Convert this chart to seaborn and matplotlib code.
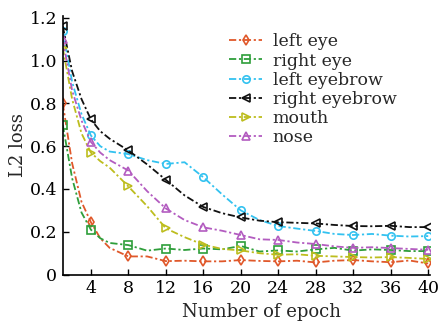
import matplotlib
matplotlib.use("Agg")
import matplotlib.pyplot as plt
import seaborn as sns
import pandas as pd

epochs = [1, 2, 3, 4, 5, 6, 8, 10, 12, 14, 16, 18, 20, 22, 24, 26, 28, 30, 32, 34, 36, 38, 40]

left_eye = [0.80, 0.52, 0.34, 0.245, 0.17, 0.125, 0.085, 0.085, 0.063, 0.065, 0.062, 0.062, 0.068,
            0.064, 0.062, 0.065, 0.057, 0.065, 0.068, 0.062, 0.058, 0.066, 0.052]
right_eye = [0.70, 0.45, 0.29, 0.21, 0.17, 0.148, 0.138, 0.112, 0.122, 0.115, 0.122, 0.118, 0.134,
             0.108, 0.113, 0.108, 0.118, 0.125, 0.112, 0.118, 0.115, 0.110, 0.110]
left_eyebrow = [1.14, 0.90, 0.75, 0.65, 0.60, 0.575, 0.563, 0.535, 0.517, 0.525, 0.455, 0.375, 0.30,
                0.255, 0.227, 0.215, 0.204, 0.190, 0.185, 0.190, 0.182, 0.178, 0.180]
right_eyebrow = [1.16, 0.95, 0.82, 0.725, 0.67, 0.635, 0.58, 0.515, 0.443, 0.37, 0.316, 0.287, 0.267,
                 0.252, 0.245, 0.242, 0.239, 0.232, 0.227, 0.226, 0.228, 0.222, 0.222]
mouth = [1.06, 0.82, 0.66, 0.57, 0.53, 0.50, 0.412, 0.32, 0.216, 0.175, 0.14, 0.12, 0.113,
         0.100, 0.093, 0.095, 0.088, 0.085, 0.082, 0.080, 0.082, 0.078, 0.073]
nose = [1.10, 0.86, 0.72, 0.62, 0.57, 0.535, 0.486, 0.39, 0.309, 0.255, 0.221, 0.205, 0.185,
        0.165, 0.162, 0.150, 0.143, 0.132, 0.125, 0.128, 0.124, 0.120, 0.116]

series_names = ["left eye", "right eye", "left eyebrow", "right eyebrow", "mouth", "nose"]
series_values = [left_eye, right_eye, left_eyebrow, right_eyebrow, mouth, nose]
colors = ["#E0582A", "#2E9E3A", "#33C2F0", "#111111", "#BDBD1E", "#B35CC0"]
markers = ["d", "s", "o", "<", ">", "^"]

x_ticks = [4, 8, 12, 16, 20, 24, 28, 32, 36, 40]
y_ticks = [0, 0.2, 0.4, 0.6, 0.8, 1.0, 1.2]
y_tick_labels = ["0", "0.2", "0.4", "0.6", "0.8", "1.0", "1.2"]

sns.set_theme(style="ticks")
plt.rcParams["font.family"] = ["DejaVu Serif"]
plt.rcParams["mathtext.fontset"] = "dejavuserif"

fig = plt.figure(figsize=(4.42, 3.25), dpi=100)
ax = fig.add_axes([0.142, 0.155, 0.831, 0.797])

mark_idx = [i for i, e in enumerate(epochs) if e == 1 or e % 4 == 0]

for name, vals, c, m in zip(series_names, series_values, colors, markers):
    df = pd.DataFrame({"epoch": epochs, "loss": vals})
    sns.lineplot(data=df, x="epoch", y="loss", ax=ax, color=c, marker=m,
                 markevery=mark_idx, markersize=5.3, markerfacecolor="none",
                 markeredgecolor=c, markeredgewidth=1.2, linewidth=1.3,
                 dashes=False, linestyle=(0, (4, 1.5, 1.2, 1.5)), label=name)

ax.set_xlim(1, 40.2)
ax.set_ylim(0, 1.21)
ax.set_xticks(x_ticks)
ax.set_yticks(y_ticks)
ax.set_yticklabels(y_tick_labels)
ax.tick_params(direction="in", length=4, width=1, labelsize=12.5, colors="black", pad=4)
for s in ["top", "right"]:
    ax.spines[s].set_visible(False)
for s in ["left", "bottom"]:
    ax.spines[s].set_color("black")
    ax.spines[s].set_linewidth(1.2)

ax.set_xlabel("Number of epoch", fontsize=13, labelpad=4)
ax.xaxis.label.set_x(0.54)
ax.set_ylabel("L2 loss", fontsize=13, labelpad=2)

leg = ax.legend(loc="upper left", bbox_to_anchor=(0.42, 0.978), frameon=False,
                fontsize=12.5, handlelength=1.9, handletextpad=0.6, labelspacing=0.12,
                borderpad=0.2)

fig.savefig("out.png", dpi=100)
